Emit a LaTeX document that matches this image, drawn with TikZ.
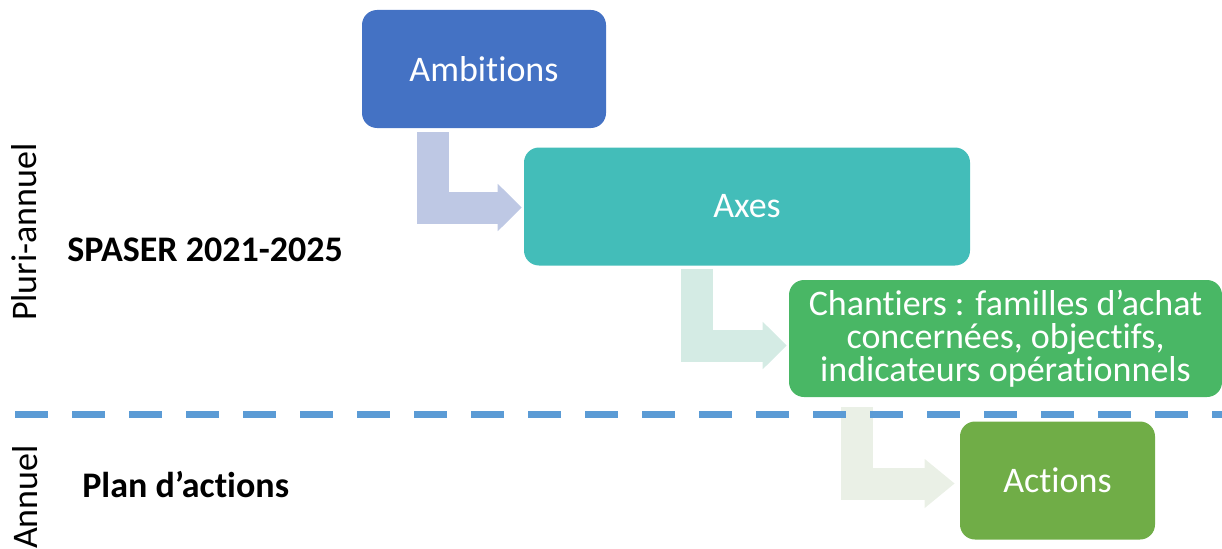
\documentclass[tikz,border=0pt]{standalone}
\usepackage{fontspec}
\setmainfont{Carlito}[Ligatures=NoCommon]
\usetikzlibrary{arrows.meta}

\definecolor{ambblue}{HTML}{4472C4}
\definecolor{axteal}{RGB}{67,189,185}
\definecolor{chgreen}{RGB}{73,183,101}
\definecolor{actgreen}{HTML}{70AD47}
\definecolor{elbowblue}{RGB}{190,200,228}
\definecolor{elbowteal}{RGB}{212,235,228}
\definecolor{elbowgreen}{RGB}{234,240,230}
\definecolor{sepblue}{HTML}{5B9BD5}

\begin{document}
\begin{tikzpicture}[
  box/.style={rounded corners=0.375cm, text=white, inner sep=0pt,
    minimum width=#1, minimum height=2.95cm, font=\fontsize{25.6}{30}\selectfont},
  box/.default=4cm,
  elbow/.style={line width=0.8cm, line join=miter,
    -{Triangle[length=0.6cm,width=1.15cm]}},
  sidetag/.style={rotate=90, anchor=base, inner sep=0pt, font=\fontsize{25.6}{30}\selectfont},
  heading/.style={anchor=base west, inner sep=0pt, font=\fontsize{25.6}{30}\selectfont\bfseries}
]
\useasboundingbox (0,0) rectangle (30.55,13.7);

% the four levels
\node[box=6.1cm, fill=ambblue] (amb) at (12.1,11.975) {Ambitions};
\node[box=11.15cm, fill=axteal] (axes) at (18.675,8.5375) {Axes};
\node[box=10.825cm, minimum height=2.925cm, fill=chgreen, align=center,
  font=\fontsize{25.6}{23.5}\selectfont] (chant) at (25.1375,5.2375)
  {Chantiers : familles d’achat\\concernées, objectifs,\\indicateurs opérationnels};
\node[box=4.875cm, fill=actgreen] (act) at (26.4375,1.6875) {Actions};

% bent arrows between levels
\draw[elbow, elbowblue, shorten >=0.05cm] ([xshift=1.775cm, yshift=-0.1cm]amb.south west) |- ([yshift=-0.025cm]axes.west);
\draw[elbow, elbowteal, shorten >=0.05cm] ([xshift=4.325cm, yshift=-0.075cm]axes.south west) |- ([yshift=-0.175cm]chant.west);
\draw[elbow, elbowgreen, shorten >=0.125cm, -{Triangle[length=0.75cm,width=1.175cm]}]
  ([xshift=1.7cm, yshift=-0.25cm]chant.south west) |- ([yshift=-0.075cm]act.west);

% separator pluri-annuel / annuel
\coordinate (sepL) at (0.375,3.35);
\coordinate (sepR) at (30.55,3.35);
\draw[sepblue, line width=0.175cm, dash pattern=on 0.825cm off 0.6cm] (sepL) -- (sepR);

\node[sidetag] (pluri) at (0.9,7.9) {Pluri-annuel};
\node[sidetag] (annuel) at (0.925,1.275) {Annuel};
\node[heading] (spaser) at (1.675,7.175) {SPASER 2021-2025};
\node[heading] (plan) at (2.05,1.275) {Plan d’actions};
\end{tikzpicture}
\end{document}
